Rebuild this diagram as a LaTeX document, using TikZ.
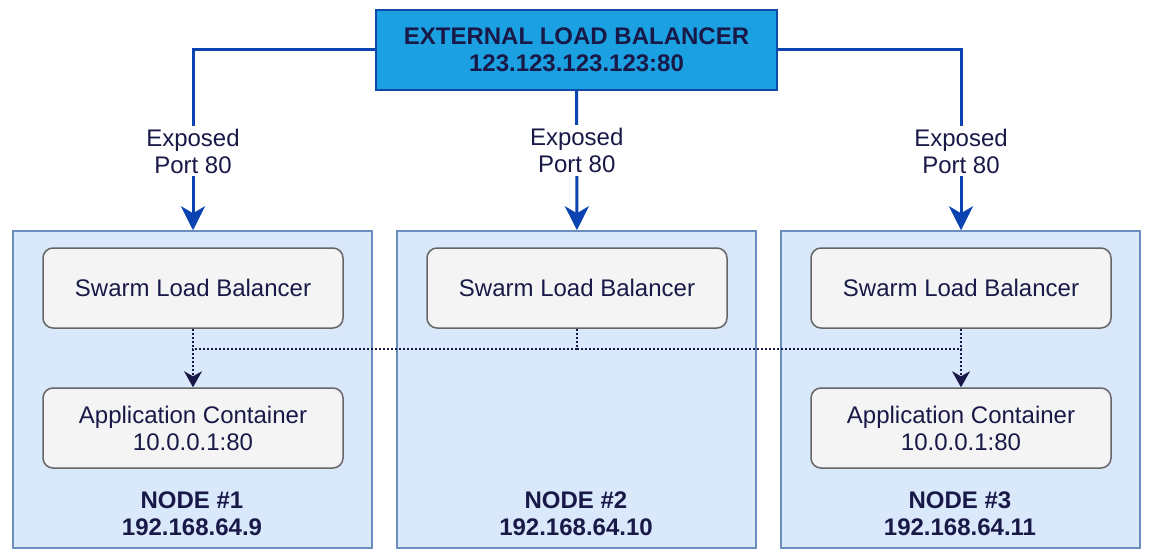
\documentclass[tikz,border=0pt]{standalone}
\usepackage{fontspec}
\setmainfont{Liberation Sans}
\usetikzlibrary{arrows.meta}
\definecolor{navy}{HTML}{191948}
\definecolor{wire}{HTML}{0B44B0}
\definecolor{elbfill}{HTML}{1BA1E2}
\definecolor{elbdraw}{HTML}{0C4AAA}
\definecolor{hostfill}{HTML}{DAE8FC}
\definecolor{hostdraw}{HTML}{6C8EBF}
\definecolor{boxfill}{HTML}{F4F4F4}
\definecolor{boxdraw}{HTML}{666666}
\begin{document}
\begin{tikzpicture}[x=1pt,y=-1pt,
    every node/.style={font=\fontsize{24}{27}\selectfont,text=navy,align=center,inner sep=0pt},
    host/.style={draw=hostdraw,fill=hostfill,line width=1.5pt,minimum width=359,minimum height=317},
    box/.style={draw=boxdraw,fill=boxfill,line width=1.5pt,rounded corners=10pt,minimum width=300,minimum height=80},
    wirearrow/.style={draw=wire,line width=3pt,-{Stealth[length=24pt,width=24pt,inset=7pt]}},
    lbl/.style={fill=white,inner sep=3pt},
    dots/.style={draw=navy,line width=1.6pt,dash pattern=on 2pt off 2pt},
    dotarrow/.style={dots,-{Stealth[length=16pt,width=18pt,inset=5pt]}}]
    \useasboundingbox[fill=white] (0,0) rectangle (1153,559);
    % hosts
    \node[host] (cont1) at (192.5,389.5) {};
    \node[host] (cont2) at (576.5,389.5) {};
    \node[host] (cont3) at (960.5,389.5) {};
    % boxes inside the hosts
    \node[box] (slb1) at (193,288) {Swarm Load Balancer};
    \node[box] (slb2) at (577,288) {Swarm Load Balancer};
    \node[box] (slb3) at (961,288) {Swarm Load Balancer};
    \node[box] (app1) at (193,428) {Application Container\\10.0.0.1:80};
    \node[box] (app3) at (961,428) {Application Container\\10.0.0.1:80};
    \node[font=\fontsize{24}{27}\selectfont\bfseries] (host1) at (192,514) {NODE \#1\\192.168.64.9};
    \node[font=\fontsize{24}{27}\selectfont\bfseries] (host2) at (576,514) {NODE \#2\\192.168.64.10};
    \node[font=\fontsize{24}{27}\selectfont\bfseries] (host3) at (960,514) {NODE \#3\\192.168.64.11};
    % external balancer
    \node[draw=elbdraw,fill=elbfill,line width=1.5pt,minimum width=401,minimum height=80,
          font=\fontsize{24}{27}\selectfont\bfseries] (elb) at (576.5,50) {EXTERNAL LOAD BALANCER\\123.123.123.123:80};
    \draw[wirearrow] (elb.west) -| node[lbl,pos=.78] (lab1) {Exposed\\Port 80} (slb1.center |- cont1.north);
    \draw[wirearrow] (elb.south) -- node[lbl,pos=.43] (lab2) {Exposed\\Port 80} (slb2.center |- cont2.north);
    \draw[wirearrow] (elb.east) -| node[lbl,pos=.78] (lab3) {Exposed\\Port 80} (slb3.center |- cont3.north);
    % routing mesh
    \draw[dots] (slb2.south) -- ++(0,20) coordinate (mesh);
    \draw[dotarrow] (mesh) -| (app1.north);
    \draw[dotarrow] (mesh) -| (app3.north);
    \draw[dots] (slb1.south) -- (app1.north |- mesh);
    \draw[dots] (slb3.south) -- (app3.north |- mesh);
\end{tikzpicture}
\end{document}
